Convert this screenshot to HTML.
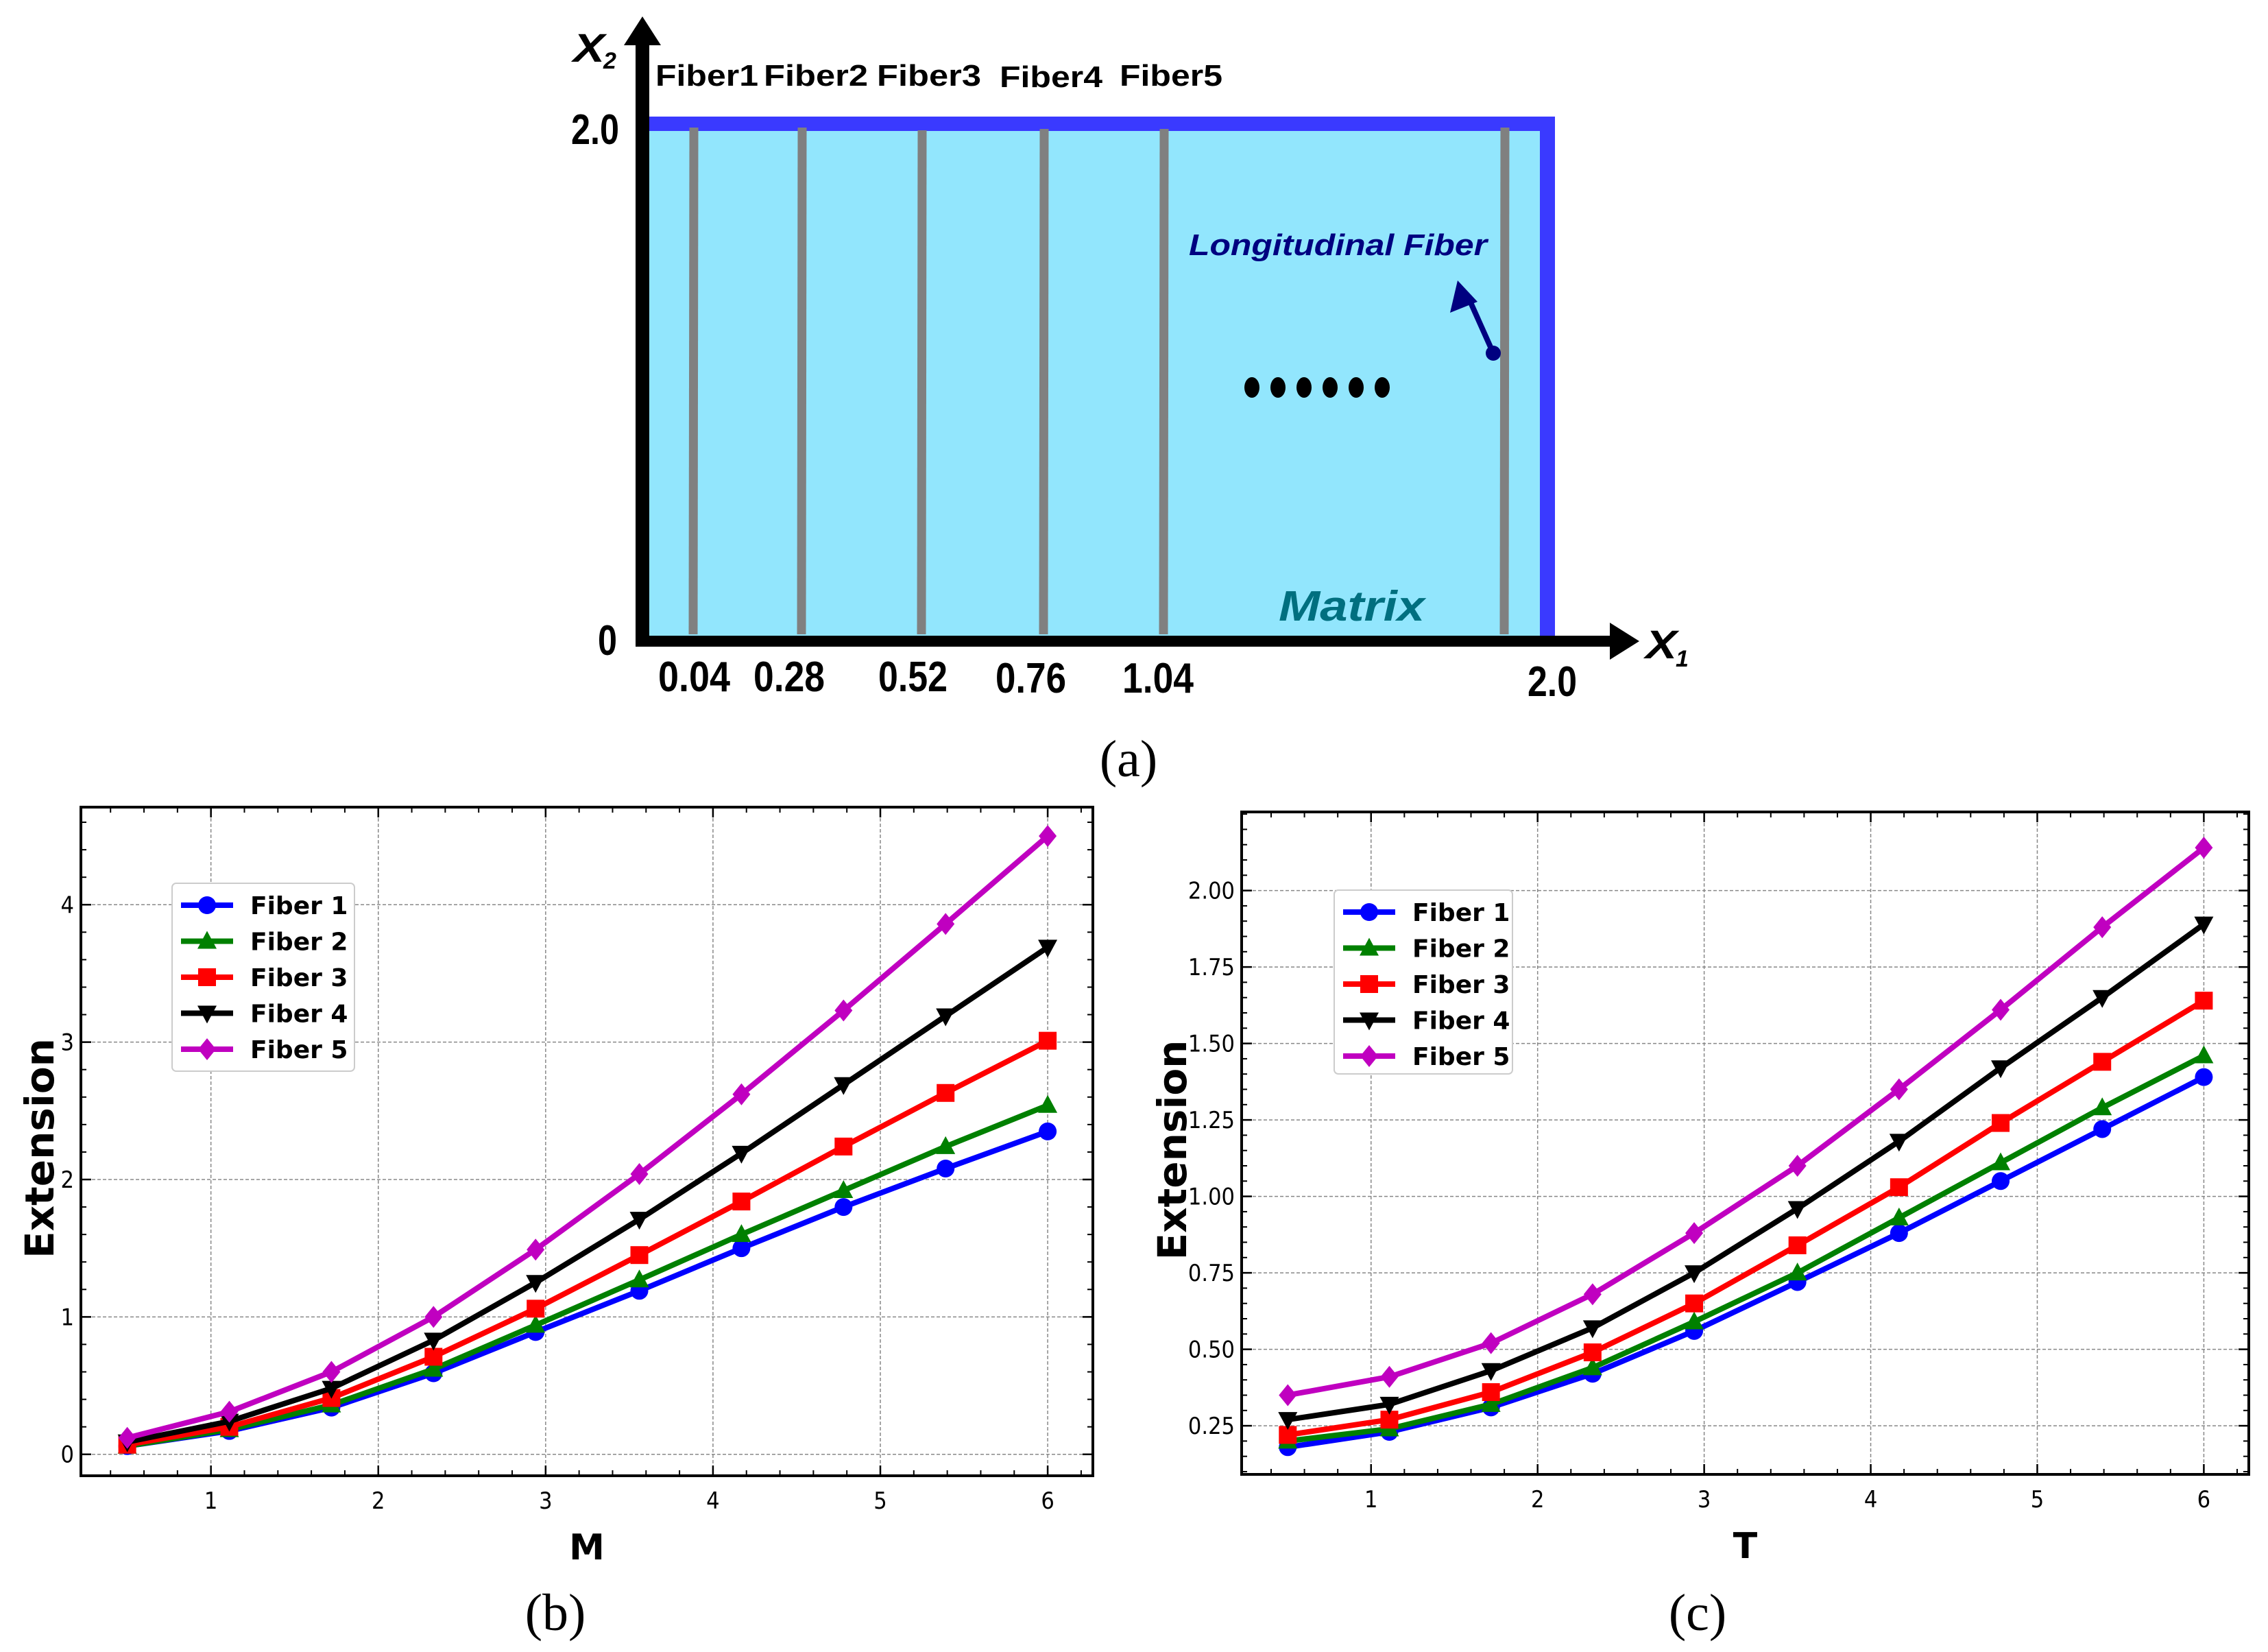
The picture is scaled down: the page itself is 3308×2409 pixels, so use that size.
<!DOCTYPE html>
<html><head><meta charset="utf-8"><style>
html,body{margin:0;padding:0;background:#fff;}
svg{display:block;}
</style></head><body>
<svg id="fig" xmlns="http://www.w3.org/2000/svg" width="3308" height="2409" viewBox="0 0 3308 2409" font-family="Liberation Sans, DejaVu Sans, sans-serif">
<rect width="3308" height="2409" fill="#fff"/>
<g id="panel-a">
  <rect x="939" y="170" width="1329" height="760" fill="#3a3aff"/>
  <rect x="945" y="191" width="1301" height="737" fill="#92e6fd"/>
  <g stroke="#808080" stroke-width="13">
    <line x1="1012" y1="186" x2="1011" y2="925"/>
    <line x1="1170" y1="186" x2="1169" y2="925"/>
    <line x1="1345" y1="190" x2="1344" y2="925"/>
    <line x1="1523" y1="188" x2="1522" y2="925"/>
    <line x1="1698" y1="188" x2="1697" y2="925"/>
    <line x1="2195" y1="186" x2="2194" y2="925"/>
  </g>
  <rect x="927" y="50" width="20" height="893" fill="#000"/>
  <polygon points="937,24 910,66 964,66" fill="#000"/>
  <rect x="927" y="927" width="1430" height="16" fill="#000"/>
  <polygon points="2391,935 2348,908 2348,962" fill="#000"/>
  <g font-weight="bold" fill="#000">
    <text x="836" y="90" font-size="58" font-style="italic" textLength="46" lengthAdjust="spacingAndGlyphs">X</text>
    <text x="880" y="100" font-size="34" font-style="italic">2</text>
    <text x="2400" y="960" font-size="58" font-style="italic" textLength="46" lengthAdjust="spacingAndGlyphs">X</text>
    <text x="2444" y="972" font-size="34" font-style="italic">1</text>
    <text x="956" y="125" font-size="44" textLength="150" lengthAdjust="spacingAndGlyphs">Fiber1</text>
    <text x="1114" y="125" font-size="44" textLength="152" lengthAdjust="spacingAndGlyphs">Fiber2</text>
    <text x="1279" y="125" font-size="44" textLength="152" lengthAdjust="spacingAndGlyphs">Fiber3</text>
    <text x="1458" y="127" font-size="44" textLength="150" lengthAdjust="spacingAndGlyphs">Fiber4</text>
    <text x="1633" y="125" font-size="44" textLength="150" lengthAdjust="spacingAndGlyphs">Fiber5</text>
    <text x="833" y="210" font-size="62" textLength="70" lengthAdjust="spacingAndGlyphs">2.0</text>
    <text x="872" y="955" font-size="62" textLength="28" lengthAdjust="spacingAndGlyphs">0</text>
    <text x="960" y="1008" font-size="62" textLength="105" lengthAdjust="spacingAndGlyphs">0.04</text>
    <text x="1099" y="1008" font-size="62" textLength="104" lengthAdjust="spacingAndGlyphs">0.28</text>
    <text x="1281" y="1008" font-size="62" textLength="101" lengthAdjust="spacingAndGlyphs">0.52</text>
    <text x="1452" y="1010" font-size="62" textLength="103" lengthAdjust="spacingAndGlyphs">0.76</text>
    <text x="1637" y="1010" font-size="62" textLength="104" lengthAdjust="spacingAndGlyphs">1.04</text>
    <text x="2228" y="1015" font-size="62" textLength="72" lengthAdjust="spacingAndGlyphs">2.0</text>
    <text x="1734" y="372" font-size="44" font-style="italic" fill="#000080" textLength="435" lengthAdjust="spacingAndGlyphs">Longitudinal Fiber</text>
    <text x="1865" y="905" font-size="62" font-style="italic" fill="#006f7f" textLength="213" lengthAdjust="spacingAndGlyphs">Matrix</text>
  </g>
  <line x1="2178" y1="515" x2="2140" y2="430" stroke="#000080" stroke-width="8"/>
  <polygon points="2126,409 2115,456 2155,440" fill="#000080"/>
  <circle cx="2178" cy="515" r="11" fill="#000080"/>
  <g fill="#000">
    <ellipse cx="1826" cy="565" rx="11" ry="15"/><ellipse cx="1864" cy="565" rx="11" ry="15"/>
    <ellipse cx="1902" cy="565" rx="11" ry="15"/><ellipse cx="1940" cy="565" rx="11" ry="15"/>
    <ellipse cx="1978" cy="565" rx="11" ry="15"/><ellipse cx="2016" cy="565" rx="11" ry="15"/>
  </g>
  <text x="1646" y="1132" font-size="76" font-family="Liberation Serif, serif" text-anchor="middle">(a)</text>
</g>
<g id="plot-b"></g>
<g id="plot-c"></g>
<text x="810" y="2377" font-size="76" font-family="Liberation Serif, serif" text-anchor="middle">(b)</text>
<text x="2476" y="2377" font-size="76" font-family="Liberation Serif, serif" text-anchor="middle">(c)</text>
</svg>
<script>
const xValues = [0.5, 1.11, 1.72, 2.33, 2.94, 3.56, 4.17, 4.78, 5.39, 6.0];
const seriesNames = ['Fiber 1','Fiber 2','Fiber 3','Fiber 4','Fiber 5'];
const bFiber1 = [0.06,0.17,0.34,0.59,0.89,1.19,1.50,1.80,2.08,2.35];
const bFiber2 = [0.06,0.18,0.36,0.62,0.94,1.27,1.60,1.92,2.24,2.54];
const bFiber3 = [0.07,0.20,0.41,0.71,1.06,1.45,1.84,2.24,2.63,3.01];
const bFiber4 = [0.09,0.24,0.48,0.83,1.25,1.71,2.19,2.69,3.19,3.69];
const bFiber5 = [0.12,0.31,0.60,1.00,1.49,2.04,2.62,3.23,3.86,4.50];
const cFiber1 = [0.18,0.23,0.31,0.42,0.56,0.72,0.88,1.05,1.22,1.39];
const cFiber2 = [0.20,0.24,0.32,0.44,0.59,0.75,0.93,1.11,1.29,1.46];
const cFiber3 = [0.22,0.27,0.36,0.49,0.65,0.84,1.03,1.24,1.44,1.64];
const cFiber4 = [0.27,0.32,0.43,0.57,0.75,0.96,1.18,1.42,1.65,1.89];
const cFiber5 = [0.35,0.41,0.52,0.68,0.88,1.10,1.35,1.61,1.88,2.14];
const xTicks = [1,2,3,4,5,6];
const bYTicks = [0,1,2,3,4];
const bYTickLabels = ['0','1','2','3','4'];
const cYTicks = [0.25,0.5,0.75,1.0,1.25,1.5,1.75,2.0];
const cYTickLabels = ['0.25','0.50','0.75','1.00','1.25','1.50','1.75','2.00'];

const NS='http://www.w3.org/2000/svg';
const colors=['#0000ff','#008000','#ff0000','#000000','#c000c0'];
const markers=['circle','tri-up','square','tri-down','diamond'];
function mk(tag,attrs,parent){const e=document.createElementNS(NS,tag);for(const k in attrs)e.setAttribute(k,attrs[k]);parent.appendChild(e);return e;}
function marker(g,type,x,y,c){
  const s=13;let e;
  if(type==='circle')e=mk('circle',{cx:x,cy:y,r:s},g);
  else if(type==='square')e=mk('rect',{x:x-s,y:y-s,width:2*s,height:2*s},g);
  else if(type==='tri-up')e=mk('polygon',{points:`${x},${y-s-2} ${x-s-1},${y+s-2} ${x+s+1},${y+s-2}`},g);
  else if(type==='tri-down')e=mk('polygon',{points:`${x},${y+s+2} ${x-s-1},${y-s+2} ${x+s+1},${y-s+2}`},g);
  else e=mk('polygon',{points:`${x},${y-s-3} ${x+s},${y} ${x},${y+s+3} ${x-s},${y}`},g);
  e.setAttribute('fill',c);
  
  
}
function drawChart(id,cfg){
  const g=document.getElementById(id);
  const {L,R,T,B,xmin,xmax,ymin,ymax}=cfg;
  const sx=v=>L+(v-xmin)/(xmax-xmin)*(R-L);
  const sy=v=>B-(v-ymin)/(ymax-ymin)*(B-T);
  xTicks.forEach(t=>{const l=mk('line',{x1:sx(t),x2:sx(t),y1:T,y2:B,stroke:'#888','stroke-width':1.5,'stroke-dasharray':'5,3'},g);
    });
  cfg.yt.forEach(t=>{const l=mk('line',{x1:L,x2:R,y1:sy(t),y2:sy(t),stroke:'#888','stroke-width':1.5,'stroke-dasharray':'5,3'},g);
    });
  for(let v=Math.ceil(xmin/0.2)*0.2;v<=xmax;v+=0.2){
    mk('line',{x1:sx(v),x2:sx(v),y1:B,y2:B-8,stroke:'#000','stroke-width':2},g);
    mk('line',{x1:sx(v),x2:sx(v),y1:T,y2:T+8,stroke:'#000','stroke-width':2},g);
  }
  for(let v=Math.ceil(ymin/cfg.ym)*cfg.ym;v<=ymax;v+=cfg.ym){
    mk('line',{x1:L,x2:L+8,y1:sy(v),y2:sy(v),stroke:'#000','stroke-width':2},g);
    mk('line',{x1:R,x2:R-8,y1:sy(v),y2:sy(v),stroke:'#000','stroke-width':2},g);
  }
  xTicks.forEach(t=>{
    mk('line',{x1:sx(t),x2:sx(t),y1:B,y2:B-15,stroke:'#000','stroke-width':2.5},g);
    mk('line',{x1:sx(t),x2:sx(t),y1:T,y2:T+15,stroke:'#000','stroke-width':2.5},g);
    const tx=mk('text',{x:sx(t),y:B+48,'font-size':34,'text-anchor':'middle','font-family':'DejaVu Sans Condensed, DejaVu Sans, sans-serif'},g);
    tx.textContent=String(t);
    
  });
  cfg.yt.forEach((t,i)=>{
    mk('line',{x1:L,x2:L+15,y1:sy(t),y2:sy(t),stroke:'#000','stroke-width':2.5},g);
    mk('line',{x1:R,x2:R-15,y1:sy(t),y2:sy(t),stroke:'#000','stroke-width':2.5},g);
    const tx=mk('text',{x:L-10,y:sy(t)+12,'font-size':34,'text-anchor':'end','font-family':'DejaVu Sans Condensed, DejaVu Sans, sans-serif'},g);
    tx.textContent=cfg.ytl[i];
    
  });
  const fr=mk('rect',{x:L,y:T,width:R-L,height:B-T,fill:'none',stroke:'#000','stroke-width':4},g);
  
  cfg.series.forEach((arr,si)=>{
    const pts=arr.map((v,i)=>sx(xValues[i])+','+sy(v)).join(' ');
    const pl=mk('polyline',{points:pts,fill:'none',stroke:colors[si],'stroke-width':8,'stroke-linejoin':'round'},g);
    
    arr.forEach((v,i)=>marker(g,markers[si],sx(xValues[i]),sy(v),colors[si]));
  });
  const yl=mk('text',{x:0,y:0,'font-size':58,'font-weight':'bold','text-anchor':'middle',transform:`translate(${cfg.ylx},${(T+B)/2+10}) rotate(-90)`,'font-family':'DejaVu Sans, sans-serif'},g);
  yl.textContent='Extension';
  
  const xl=mk('text',{x:(L+R)/2,y:B+122,'font-size':52,'font-weight':'bold','text-anchor':'middle','font-family':'DejaVu Sans, sans-serif'},g);
  xl.textContent=cfg.xlabel;
  
  const lg=mk('g',{},g);
  
  mk('rect',{x:cfg.lx,y:cfg.ly,width:cfg.lw,height:cfg.lh,rx:6,fill:'#fff',stroke:'#ccc','stroke-width':2},lg);
  seriesNames.forEach((n,i)=>{
    const yy=cfg.ly+32+i*52.5;
    const ent=mk('g',{},lg);
    
    mk('line',{x1:cfg.lx+13,x2:cfg.lx+89,y1:yy,y2:yy,stroke:colors[i],'stroke-width':8},ent);
    marker(ent,markers[i],cfg.lx+51,yy,colors[i]);
    const t=mk('text',{x:cfg.lx+114,y:yy+13,'font-size':36,'font-weight':'bold','font-family':'DejaVu Sans, sans-serif'},ent);
    t.textContent=n;
  });
}
drawChart('plot-b',{L:118,R:1594,T:1177,B:2152,xmin:0.223,xmax:6.27,ymin:-0.156,ymax:4.71,
  yt:bYTicks,ytl:bYTickLabels,ym:0.2,series:[bFiber1,bFiber2,bFiber3,bFiber4,bFiber5],
  xlabel:'M',ylx:78,lx:251,ly:1288,lw:266,lh:274});
drawChart('plot-c',{L:1811,R:3280,T:1184,B:2150,xmin:0.223,xmax:6.27,ymin:0.091,ymax:2.257,
  yt:cYTicks,ytl:cYTickLabels,ym:0.05,series:[cFiber1,cFiber2,cFiber3,cFiber4,cFiber5],
  xlabel:'T',ylx:1730,lx:1946,ly:1298,lw:260,lh:268});
</script>
</body></html>
